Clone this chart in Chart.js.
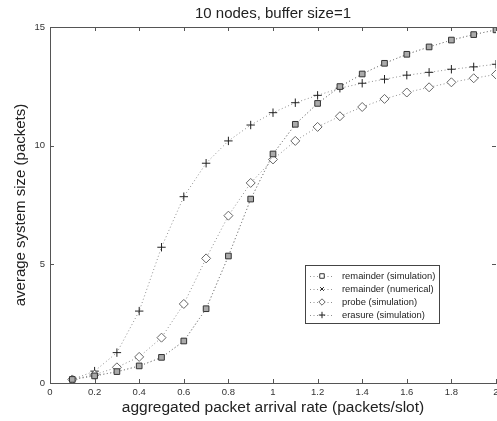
<!DOCTYPE html>
<html>
<head>
<meta charset="utf-8">
<script src="https://cdn.jsdelivr.net/npm/chart.js@4/dist/chart.umd.min.js"></script>
<style>
  html, body { margin: 0; padding: 0; background: #fff; overflow: hidden; }
  #wrap { width: 510px; height: 421px; }
</style>
</head>
<body>
<div id="wrap"><canvas id="c" width="510" height="421"></canvas></div>
<script>
// ---- data ----
const titleText = '10 nodes, buffer size=1';
const xTitle = 'aggregated packet arrival rate (packets/slot)';
const yTitle = 'average system size (packets)';
const arrivalRates = [0.1,0.2,0.3,0.4,0.5,0.6,0.7,0.8,0.9,1.0,1.1,1.2,1.3,1.4,1.5,1.6,1.7,1.8,1.9,2.0];
const remainderSim = [0.15,0.30,0.48,0.72,1.08,1.77,3.13,5.35,7.75,9.65,10.9,11.78,12.49,13.02,13.47,13.85,14.16,14.45,14.68,14.88];
const remainderNum = [0.15,0.30,0.47,0.71,1.07,1.76,3.12,5.34,7.74,9.64,10.9,11.78,12.48,13.02,13.47,13.85,14.16,14.45,14.68,14.88];
const probeSim     = [0.15,0.35,0.66,1.10,1.91,3.33,5.25,7.05,8.43,9.42,10.2,10.79,11.24,11.63,11.97,12.24,12.46,12.67,12.84,13.0];
const erasureSim   = [0.15,0.50,1.28,3.03,5.72,7.85,9.26,10.2,10.87,11.39,11.81,12.12,12.42,12.63,12.8,12.97,13.09,13.22,13.32,13.43];
const seriesLabels = ['remainder (simulation)','remainder (numerical)','probe (simulation)','erasure (simulation)'];
const xTicks = [0,0.2,0.4,0.6,0.8,1,1.2,1.4,1.6,1.8,2];
const yTicks = [0,5,10,15];

const FONT = "'Liberation Sans', Arial, Helvetica, sans-serif";
const pts = arr => arr.map((v, i) => ({x: arrivalRates[i], y: v}));

function ds(label, data, style, radius, border, bg, legendBg) {
  return {
    label, data: pts(data),
    borderColor: '#8f8f8f', borderWidth: 1, borderDash: [1, 2.5],
    pointStyle: style, pointRadius: radius, pointHoverRadius: radius,
    pointBorderColor: border, pointBackgroundColor: bg, pointBorderWidth: 1,
    legendBg: legendBg || bg,
    fill: false, tension: 0
  };
}

// title centred over the plot area (MATLAB style)
const plotTitle = {
  id: 'plotTitle',
  afterDraw(chart) {
    const {ctx, chartArea: a} = chart;
    ctx.save();
    ctx.fillStyle = '#222';
    ctx.font = '15px ' + FONT;
    ctx.textAlign = 'center';
    ctx.textBaseline = 'middle';
    ctx.fillText(titleText, (a.left + a.right) / 2, 14);
    ctx.restore();
  }
};

// inward ticks on all four sides + top border
const boxTicks = {
  id: 'boxTicks',
  afterDraw(chart) {
    const {ctx, chartArea: a, scales: {x, y}} = chart;
    ctx.save();
    ctx.strokeStyle = '#555';
    ctx.lineWidth = 1;
    ctx.beginPath();
    ctx.moveTo(a.left, a.top + 0.5); ctx.lineTo(a.right, a.top + 0.5);
    xTicks.forEach(v => {
      const px = Math.round(x.getPixelForValue(v)) + 0.5;
      ctx.moveTo(px, a.bottom); ctx.lineTo(px, a.bottom - 4);
      ctx.moveTo(px, a.top); ctx.lineTo(px, a.top + 4);
    });
    yTicks.forEach(v => {
      const py = Math.round(y.getPixelForValue(v)) + 0.5;
      ctx.moveTo(a.left, py); ctx.lineTo(a.left + 4, py);
      ctx.moveTo(a.right, py); ctx.lineTo(a.right - 4, py);
    });
    ctx.stroke();
    ctx.restore();
  }
};

// legend box inside the plot
const innerLegend = {
  id: 'innerLegend',
  afterDatasetsDraw(chart) {
    const {ctx} = chart;
    const bx = 305, by = 265, bw = 134, bh = 58;
    ctx.save();
    ctx.fillStyle = '#fff';
    ctx.fillRect(bx, by, bw, bh);
    ctx.strokeStyle = '#444';
    ctx.lineWidth = 1;
    ctx.strokeRect(bx + 0.5, by + 0.5, bw, bh);
    chart.data.datasets.forEach((d, i) => {
      const yy = by + 11 + i * 13;
      ctx.save();
      ctx.strokeStyle = d.borderColor;
      ctx.setLineDash(d.borderDash);
      ctx.lineWidth = 1;
      ctx.beginPath();
      ctx.moveTo(bx + 5, yy + 0.5); ctx.lineTo(bx + 29, yy + 0.5);
      ctx.stroke();
      ctx.restore();
      ctx.strokeStyle = d.pointBorderColor;
      ctx.fillStyle = d.legendBg;
      ctx.lineWidth = 1;
      Chart.helpers.drawPoint(ctx, {pointStyle: d.pointStyle, radius: Math.min(d.pointRadius, 3.2), rotation: 0, borderWidth: 1}, bx + 17, yy);
      ctx.fillStyle = '#222';
      ctx.font = '9.4px ' + FONT;
      ctx.textBaseline = 'middle';
      ctx.textAlign = 'left';
      ctx.fillText(d.label, bx + 37, yy);
    });
    ctx.restore();
  }
};

new Chart(document.getElementById('c'), {
  type: 'line',
  data: {
    datasets: [
      ds(seriesLabels[0], remainderSim, 'rect', 4, '#333', '#aaa', '#fff'),
      ds(seriesLabels[1], remainderNum, 'crossRot', 2.6, '#222', '#222'),
      ds(seriesLabels[2], probeSim, 'rectRot', 4.5, '#666', '#fff'),
      ds(seriesLabels[3], erasureSim, 'cross', 4.2, '#222', '#222')
    ]
  },
  options: {
    responsive: false,
    animation: false,
    events: [],
    layout: { padding: { right: 14, top: 27, bottom: 0, left: 0 } },
    plugins: {
      legend: { display: false },
      tooltip: { enabled: false },
      title: { display: false }
    },
    scales: {
      x: {
        type: 'linear', min: 0, max: 2,
        afterFit(s) { s.height = 38; },
        afterBuildTicks(s) { s.ticks = xTicks.map(v => ({value: v})); },
        grid: { display: false, drawTicks: false },
        border: { display: true, color: '#555', width: 1 },
        ticks: { color: '#333', padding: 4, maxRotation: 0, autoSkip: false,
                 font: { family: FONT, size: 9.5 }, callback: v => String(v) },
        title: { display: true, text: xTitle, color: '#222',
                 font: { family: FONT, size: 15.5 }, padding: { top: 0, bottom: 3.7 } }
      },
      y: {
        type: 'linear', min: 0, max: 15,
        afterFit(s) { s.width = 50; },
        afterBuildTicks(s) { s.ticks = yTicks.map(v => ({value: v})); },
        grid: { display: false, drawTicks: false },
        border: { display: true, color: '#555', width: 1 },
        ticks: { color: '#333', padding: 5, font: { family: FONT, size: 9.5 } },
        title: { display: true, text: yTitle, color: '#222',
                 font: { family: FONT, size: 15 }, padding: { top: 12, bottom: 0 } }
      }
    }
  },
  plugins: [plotTitle, boxTicks, innerLegend]
});
</script>
</body>
</html>
